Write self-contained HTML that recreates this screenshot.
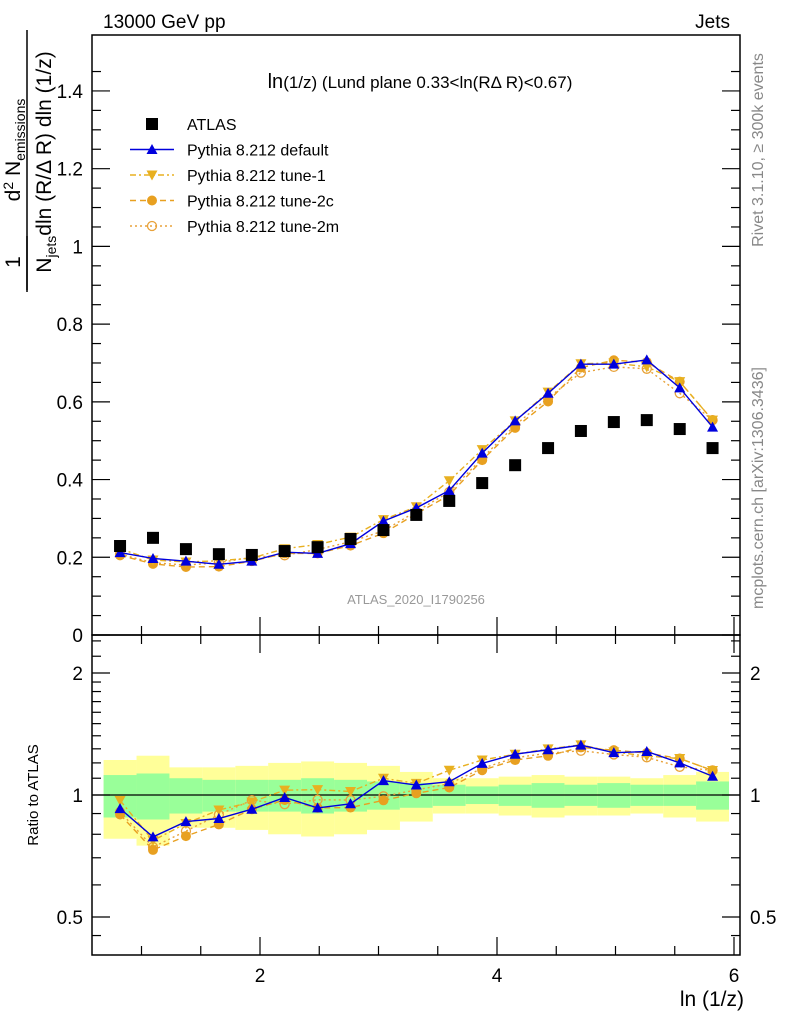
<!DOCTYPE html>
<html><head><meta charset="utf-8"><style>
body{margin:0;background:#fff}
svg text{font-family:"Liberation Sans",Arial,sans-serif}
</style></head><body>
<svg id="c" width="786" height="1024" viewBox="0 0 786 1024" xmlns="http://www.w3.org/2000/svg">
<g id="g"></g>
</svg>
<script>
const xCenters=[0.819,1.097,1.375,1.653,1.931,2.208,2.486,2.764,3.042,3.319,3.597,3.875,4.153,4.431,4.708,4.986,5.264,5.542,5.819];
const atlas=[0.229,0.25,0.221,0.208,0.206,0.216,0.226,0.247,0.27,0.309,0.345,0.391,0.437,0.481,0.525,0.548,0.553,0.53,0.481];
const pyDefault=[0.212,0.197,0.19,0.182,0.19,0.213,0.21,0.235,0.293,0.327,0.372,0.468,0.551,0.622,0.697,0.697,0.708,0.636,0.535];
const pyTune1=[0.222,0.193,0.188,0.191,0.198,0.222,0.233,0.252,0.297,0.33,0.397,0.477,0.551,0.625,0.698,0.7,0.69,0.652,0.553];
const pyTune2c=[0.205,0.183,0.175,0.176,0.19,0.21,0.21,0.23,0.262,0.312,0.36,0.45,0.533,0.601,0.688,0.707,0.702,0.652,0.553];
const pyTune2m=[0.208,0.186,0.18,0.186,0.2,0.205,0.22,0.24,0.268,0.318,0.368,0.455,0.54,0.61,0.675,0.69,0.685,0.622,0.553];
const bandGreen=[0.12,0.13,0.1,0.09,0.09,0.09,0.1,0.09,0.08,0.07,0.06,0.05,0.06,0.07,0.06,0.07,0.06,0.06,0.08];
const bandYellow=[0.22,0.25,0.17,0.17,0.18,0.2,0.21,0.2,0.18,0.14,0.1,0.1,0.11,0.12,0.11,0.11,0.1,0.12,0.14];
const yTicksMain=[0,0.2,0.4,0.6,0.8,1,1.2,1.4];
const xTicks=[2,4,6];
const rTickLabels=[0.5,1,2];

const NS="http://www.w3.org/2000/svg";
const G=document.getElementById('g');
const L=92,R=740,T=35,MB=635,RB=955;
const X=v=>23+v*118.5;
const Y=v=>635-v*388.6;
const RY=r=>795-Math.log2(r)*122;
function el(tag,attrs,parent){const e=document.createElementNS(NS,tag);for(const k in attrs)e.setAttribute(k,attrs[k]);(parent||G).appendChild(e);return e;}
function txt(s,attrs){const e=el('text',attrs);e.textContent=s;return e;}

const hw=0.1389;
xCenters.forEach((x,i)=>{
 const a=Math.max(L,X(x-hw)),b=Math.min(R,X(x+hw));
 const y1=el('rect',{x:a,y:RY(1+bandYellow[i]),width:b-a,height:RY(1-bandYellow[i])-RY(1+bandYellow[i]),fill:'#ffff99'});
 
 
 const g1=el('rect',{x:a,y:RY(1+bandGreen[i]),width:b-a,height:RY(1-bandGreen[i])-RY(1+bandGreen[i]),fill:'#99ff99'});
 
 
});
el('line',{x1:L,x2:R,y1:RY(1),y2:RY(1),stroke:'#000','stroke-width':1.3});

el('rect',{x:L,y:T,width:R-L,height:MB-T,fill:'none',stroke:'#000','stroke-width':1.5});
el('rect',{x:L,y:MB,width:R-L,height:RB-MB,fill:'none',stroke:'#000','stroke-width':1.5});

for(let v=0;v<=1.5;v+=0.05){const y=Y(v);if(y<T)break;const maj=Math.abs(v/0.2-Math.round(v/0.2))<1e-6;const l=maj?18:9;
 el('line',{x1:L,x2:L+l,y1:y,y2:y,stroke:'#000','stroke-width':1.2});el('line',{x1:R,x2:R-l,y1:y,y2:y,stroke:'#000','stroke-width':1.2});}
yTicksMain.forEach(v=>{const t=txt(String(v),{x:L-9,y:Y(v)+7,'font-size':19,'text-anchor':'end'});
 
 });
for(let v=1;v<=6;v+=0.5){const x=X(v);if(x<L||x>R)continue;const maj=v%2===0;const l=maj?18:9;
 el('line',{x1:x,x2:x,y1:MB,y2:MB-l,stroke:'#000','stroke-width':1.2});el('line',{x1:x,x2:x,y1:RB,y2:RB-l,stroke:'#000','stroke-width':1.2});
 el('line',{x1:x,x2:x,y1:MB,y2:MB+l,stroke:'#000','stroke-width':1.2});}
xTicks.forEach(v=>{const t=txt(String(v),{x:X(v),y:982,'font-size':19,'text-anchor':'middle'});
 
 });
const rt=[0.45,0.5,0.6,0.7,0.8,0.9,1,1.1,1.2,1.3,1.4,1.5,1.6,1.7,1.8,1.9,2,2.2,2.4];
rt.forEach(r=>{const y=RY(r);if(y<MB||y>RB)return;const maj=[0.5,1,2].includes(r);const l=maj?18:9;
 el('line',{x1:L,x2:L+l,y1:y,y2:y,stroke:'#000','stroke-width':1.2});el('line',{x1:R,x2:R-l,y1:y,y2:y,stroke:'#000','stroke-width':1.2});});
rTickLabels.forEach(r=>{const a=txt(String(r),{x:L-9,y:RY(r)+7,'font-size':19,'text-anchor':'end'});
 
 
 const b=txt(String(r),{x:R+10,y:RY(r)+7,'font-size':19});
 
 });

const series=[
 {name:'tune-2m',data:pyTune2m,color:'#e8a23a',dash:'2,3',m:'ocirc'},
 {name:'tune-2c',data:pyTune2c,color:'#e8a020',dash:'6,4',m:'circ'},
 {name:'tune-1',data:pyTune1,color:'#e8b020',dash:'6,3,2,3',m:'tdown'},
 {name:'default',data:pyDefault,color:'#0000dd',dash:'',m:'tup'}];
function marker(m,x,y,c,name){let e;
 if(m==='circ')e=el('circle',{cx:x,cy:y,r:5,fill:c});
 else if(m==='ocirc')e=el('circle',{cx:x,cy:y,r:4.5,fill:'none',stroke:c,'stroke-width':1.3});
 else if(m==='tup')e=el('path',{d:`M${x-5.5},${y+4.5}L${x+5.5},${y+4.5}L${x},${y-5.5}Z`,fill:c});
 else if(m==='tdown')e=el('path',{d:`M${x-5.5},${y-4.5}L${x+5.5},${y-4.5}L${x},${y+5.5}Z`,fill:c});
 else e=el('rect',{x:x-6,y:y-6,width:12,height:12,fill:c});
 
 
 return e;}
series.forEach(s=>{
 const pm=s.data.map((v,i)=>X(xCenters[i])+','+Y(v)).join(' ');
 const l1=el('polyline',{points:pm,fill:'none',stroke:s.color,'stroke-width':1.4,'stroke-dasharray':s.dash});
 
 
 const pr=s.data.map((v,i)=>X(xCenters[i])+','+RY(v/atlas[i])).join(' ');
 const l2=el('polyline',{points:pr,fill:'none',stroke:s.color,'stroke-width':1.4,'stroke-dasharray':s.dash});
 
 
 s.data.forEach((v,i)=>{marker(s.m,X(xCenters[i]),Y(v),s.color,'point-'+s.name);marker(s.m,X(xCenters[i]),RY(v/atlas[i]),s.color,'ratio-point-'+s.name);});
});
atlas.forEach((v,i)=>marker('sq',X(xCenters[i]),Y(v),'#000','atlas-point'));

const leg=[['ATLAS','sq','#000',''],['Pythia 8.212 default','tup','#0000dd',''],['Pythia 8.212 tune-1','tdown','#e8b020','6,3,2,3'],['Pythia 8.212 tune-2c','circ','#e8a020','6,4'],['Pythia 8.212 tune-2m','ocirc','#e8a23a','2,3']];
leg.forEach((e,i)=>{const y=124+i*25.5;
 if(i>0){const ln=el('line',{x1:130,x2:174,y1:y,y2:y,stroke:e[2],'stroke-width':1.4,'stroke-dasharray':e[3]});
  
  }
 marker(e[1],152,y,e[2],'legend-marker');
 const t=txt(e[0],{x:187,y:y+6,'font-size':16});
 
 });

const texts=[
 ['13000 GeV pp',{x:103,y:28,'font-size':19},'energy-label'],
 ['Jets',{x:730,y:28,'font-size':19,'text-anchor':'end'},'process-label'],
 ['ATLAS_2020_I1790256',{x:416,y:604,'font-size':13,fill:'#999','text-anchor':'middle'},'analysis-id'],
 ['ln (1/z)',{x:744,y:1006,'font-size':21,'text-anchor':'end'},'x-axis-title'],
];
texts.forEach(a=>{const t=txt(a[0],a[1]);});
const ttl=txt('',{x:420,y:88,'font-size':17,'text-anchor':'middle'});
ttl.innerHTML='<tspan font-size="20">ln</tspan>(1/z) (Lund plane 0.33&lt;ln(R&#916; R)&lt;0.67)';


const rl=txt('Ratio to ATLAS',{x:0,y:0,'font-size':15,'text-anchor':'middle',transform:'translate(38,795) rotate(-90)'});


const s1=txt('Rivet 3.1.10, \u2265 300k events',{x:0,y:0,'font-size':16,fill:'#888','text-anchor':'middle',transform:'translate(763,150) rotate(-90)'});


const s2=txt('mcplots.cern.ch [arXiv:1306.3436]',{x:0,y:0,'font-size':16,fill:'#888','text-anchor':'middle',transform:'translate(763,488) rotate(-90)'});


const yg=el('g',{transform:'rotate(-90)'});


function yt(s,x,y,fs){const e=document.createElementNS(NS,'text');e.setAttribute('x',x);e.setAttribute('y',y);e.setAttribute('font-size',fs);e.setAttribute('text-anchor','middle');e.innerHTML=s;yg.appendChild(e);}
yt('1',-262,20,21);
el('line',{x1:-290,x2:-236,y1:27,y2:27,stroke:'#000','stroke-width':1.5},yg);
yt('d<tspan font-size="14" dy="-7">2</tspan><tspan dy="7"> N</tspan><tspan font-size="14" dy="5">emissions</tspan>',-150,20,21);
el('line',{x1:-292,x2:-30,y1:27,y2:27,stroke:'#000','stroke-width':1.5},yg);
yt('N<tspan font-size="14" dy="5">jets</tspan><tspan dy="-5">dln (R/&#916; R) dln (1/z)</tspan>',-162,51,21);
</script>
</body></html>
